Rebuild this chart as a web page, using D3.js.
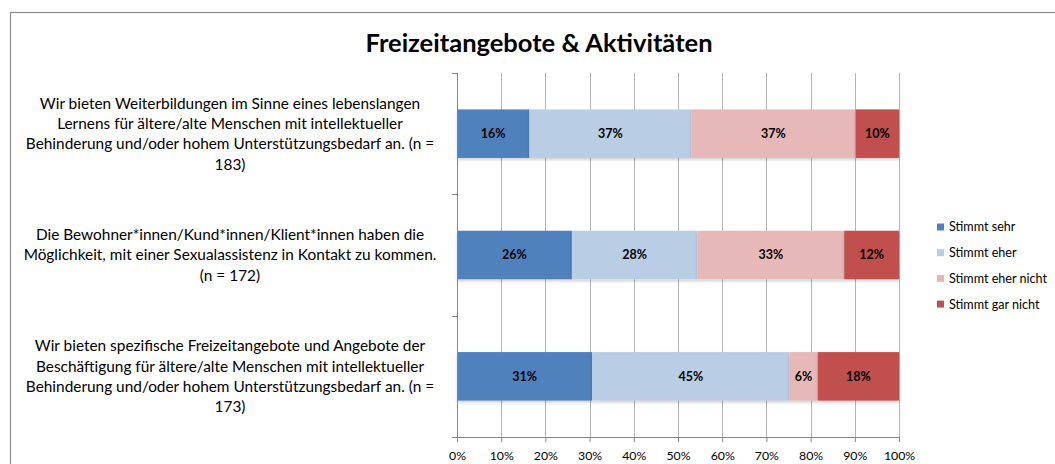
<!DOCTYPE html>
<html>
<head>
<meta charset="utf-8">
<script src="https://cdn.jsdelivr.net/npm/d3@7"></script>
<style>
  html, body { margin: 0; padding: 0; background: #fff; }
  svg { display: block; font-family: Lato, "Open Sans", sans-serif; }
</style>
</head>
<body>
<div id="chart"></div>
<script>
// ── Daten ──────────────────────────────────────────────────────────────
const title = 'Freizeitangebote & Aktivitäten';

// Kategorien (Zeilenumbrüche wie im Original)
const categories = [
  ['Wir bieten Weiterbildungen im Sinne eines lebenslangen',
   'Lernens für ältere/alte Menschen mit intellektueller',
   'Behinderung und/oder hohem Unterstützungsbedarf an. (n =',
   '183)'],
  ['Die Bewohner*innen/Kund*innen/Klient*innen haben die',
   'Möglichkeit, mit einer Sexualassistenz in Kontakt zu kommen.',
   '(n = 172)'],
  ['Wir bieten spezifische Freizeitangebote und Angebote der',
   'Beschäftigung für ältere/alte Menschen mit intellektueller',
   'Behinderung und/oder hohem Unterstützungsbedarf an. (n =',
   '173)']
];

const seriesNames = ['Stimmt sehr', 'Stimmt eher', 'Stimmt eher nicht', 'Stimmt gar nicht'];
const seriesColors = ['#4f81bd', '#b9cde5', '#e6b9b8', '#c0504d'];

// Anteile in Prozent, je Kategorie
const stimmtSehr      = [16.4, 26.0, 30.6];
const stimmtEher      = [36.6, 28.4, 44.6];
const stimmtEherNicht = [37.2, 33.2, 6.4];
const stimmtGarNicht  = [9.8, 12.4, 18.4];

const xTicks = [0, 10, 20, 30, 40, 50, 60, 70, 80, 90, 100];

// ── Aufbau ─────────────────────────────────────────────────────────────
const W = 1055, H = 464;
const plot = { left: 457, right: 899, top: 73, bottom: 437 };

const svg = d3.select('#chart').append('svg')
  .attr('width', W).attr('height', H);

// Rahmen
svg.append('rect')
  .attr('x', 10.5).attr('y', 12.5)
  .attr('width', W + 10).attr('height', H + 10)
  .attr('fill', '#fff')
  .attr('stroke', '#8c8c8c').attr('stroke-width', 1.2);

// Titel
svg.append('text')
  .attr('x', 539).attr('y', 52)
  .attr('text-anchor', 'middle')
  .attr('font-size', 25.5).attr('font-weight', 'bold')
  .attr('fill', '#000')
  .text(title);

const x = d3.scaleLinear().domain([0, 100]).range([plot.left, plot.right]);
const y = d3.scaleBand()
  .domain(d3.range(categories.length))
  .range([plot.top, plot.bottom])
  .paddingInner(0.6).paddingOuter(0.3);

// Gitterlinien
svg.append('g')
  .selectAll('line')
  .data(xTicks.slice(1))
  .join('line')
  .attr('x1', d => Math.round(x(d)) + 0.5).attr('x2', d => Math.round(x(d)) + 0.5)
  .attr('y1', plot.top).attr('y2', plot.bottom)
  .attr('stroke', '#b3b3b3').attr('stroke-width', 1);

// Gestapelte Balken
const rows = categories.map((c, i) => ({
  i,
  values: [stimmtSehr[i], stimmtEher[i], stimmtEherNicht[i], stimmtGarNicht[i]]
}));
const stack = d3.stack().keys([0, 1, 2, 3]).value((d, k) => d.values[k]);
const stacked = stack(rows);

const defs = svg.append('defs');
defs.append('filter').attr('id', 'shadow')
  .attr('x', '-5%').attr('y', '-20%').attr('width', '110%').attr('height', '150%')
  .append('feDropShadow')
  .attr('dx', 0).attr('dy', 2).attr('stdDeviation', 1.5)
  .attr('flood-color', 'rgba(0,0,0,0.18)');

const layer = svg.append('g').selectAll('g')
  .data(stacked)
  .join('g')
  .attr('fill', (d, k) => seriesColors[k]);

layer.selectAll('rect')
  .data(d => d)
  .join('rect')
  .attr('x', d => x(d[0]))
  .attr('y', d => y(d.data.i))
  .attr('width', d => x(d[1]) - x(d[0]))
  .attr('height', y.bandwidth())
  .style('filter', 'url(#shadow)');

const fmt = d3.format('.0f');
layer.selectAll('text')
  .data(d => d)
  .join('text')
  .attr('x', d => (x(d[0]) + x(d[1])) / 2)
  .attr('y', d => y(d.data.i) + y.bandwidth() / 2)
  .attr('dy', '0.35em')
  .attr('text-anchor', 'middle')
  .attr('font-size', 12.5).attr('font-weight', 'bold')
  .attr('fill', '#000')
  .text(d => fmt(d[1] - d[0]) + '%');

// Achsen
const xAxis = svg.append('g')
  .attr('transform', `translate(0,${plot.bottom})`)
  .call(d3.axisBottom(x).tickValues(xTicks).tickSize(5).tickFormat(d => d + '%'));
xAxis.select('.domain').attr('stroke', '#868686');
xAxis.selectAll('.tick line').attr('stroke', '#868686');
xAxis.selectAll('.tick text')
  .attr('font-family', 'Lato, sans-serif').attr('font-size', 12.3)
  .attr('fill', '#000').attr('dy', '1.2em');

const yEdges = d3.range(categories.length + 1).map(i => plot.top + i * y.step());
const yAxis = svg.append('g');
yAxis.append('line')
  .attr('x1', plot.left + 0.5).attr('x2', plot.left + 0.5)
  .attr('y1', plot.top).attr('y2', plot.bottom)
  .attr('stroke', '#868686');
yAxis.selectAll('line.tk')
  .data(yEdges)
  .join('line').attr('class', 'tk')
  .attr('x1', plot.left - 5).attr('x2', plot.left)
  .attr('y1', d => Math.round(d) + 0.5).attr('y2', d => Math.round(d) + 0.5)
  .attr('stroke', '#868686');

// Kategorienbeschriftung
const lineH = 20.3;
const catLabels = svg.append('g').selectAll('text')
  .data(categories)
  .join('text')
  .attr('text-anchor', 'middle')
  .attr('font-size', 15.4)
  .attr('fill', '#000');
catLabels.each(function(lines, i) {
  const cy = y(i) + y.bandwidth() / 2;
  const y0 = cy - (lines.length - 1) * lineH / 2;
  d3.select(this).selectAll('tspan')
    .data(lines)
    .join('tspan')
    .attr('x', 230)
    .attr('y', (d, j) => y0 + j * lineH)
    .attr('dy', '0.35em')
    .text(d => d);
});

// Legende
const legend = svg.append('g')
  .selectAll('g')
  .data(seriesNames)
  .join('g')
  .attr('transform', (d, k) => `translate(937,${227 + k * 25.7})`);
legend.append('rect')
  .attr('x', 0).attr('y', -3.5).attr('width', 7).attr('height', 7)
  .attr('fill', (d, k) => seriesColors[k]);
legend.append('text')
  .attr('x', 12).attr('dy', '0.35em')
  .attr('font-size', 12.6).attr('fill', '#000')
  .text(d => d);
</script>
</body>
</html>
